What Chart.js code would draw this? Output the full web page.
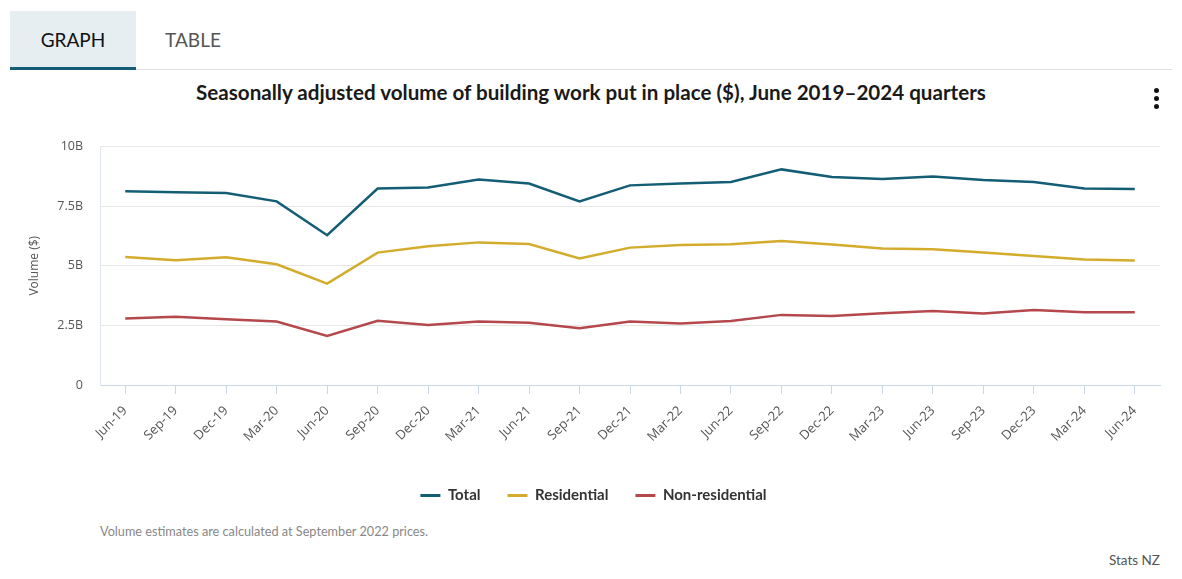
<!DOCTYPE html>
<html>
<head>
<meta charset="utf-8">
<script src="https://cdn.jsdelivr.net/npm/chart.js@4/dist/chart.umd.min.js"></script>
<style>
  html,body{margin:0;padding:0;background:#fff;width:1182px;height:579px;overflow:hidden;font-family:Lato, "Open Sans", sans-serif;}
  .tabbar{position:absolute;left:10px;top:11px;width:1162px;height:58px;border-bottom:1px solid #e0e0e0;}
  .tab{position:absolute;top:0;height:57px;line-height:58px;font-size:19px;text-align:center;color:#555;}
  .tab.active{left:0;width:126px;background:#e6eef1;color:#111;border-bottom:3px solid #135e75;height:56px;}
  .tab.other{left:126px;width:114px;}
  .title{position:absolute;left:0;width:1182px;top:80px;text-align:center;font-weight:bold;font-size:20.6px;color:#1a1a1a;}
  .menu{position:absolute;left:1154px;top:88px;}
  .menu span{display:block;width:5px;height:5px;border-radius:50%;background:#111;margin-bottom:3px;}
  .note{position:absolute;left:100px;top:523px;font-size:12.7px;color:#888;}
  .src{position:absolute;right:22px;top:552px;font-size:13.5px;color:#555;}
  #wrap{position:absolute;left:0;top:122px;width:1182px;height:391px;}
</style>
</head>
<body>
<div class="tabbar">
  <div class="tab active">GRAPH</div>
  <div class="tab other">TABLE</div>
</div>
<div class="title">Seasonally adjusted volume of building work put in place ($), June 2019–2024 quarters</div>
<div class="menu"><span></span><span></span><span></span></div>
<div id="wrap"><canvas id="c"></canvas></div>
<div class="note">Volume estimates are calculated at September 2022 prices.</div>
<div class="src">Stats NZ</div>
<script>
const categories = ["Jun-19","Sep-19","Dec-19","Mar-20","Jun-20","Sep-20","Dec-20","Mar-21","Jun-21","Sep-21","Dec-21","Mar-22","Jun-22","Sep-22","Dec-22","Mar-23","Jun-23","Sep-23","Dec-23","Mar-24","Jun-24"];
const total = [8.12,8.08,8.05,7.70,6.28,8.24,8.28,8.62,8.45,7.70,8.37,8.45,8.51,9.04,8.72,8.64,8.74,8.60,8.51,8.24,8.22];
const residential = [5.37,5.23,5.36,5.06,4.25,5.55,5.82,5.98,5.91,5.31,5.76,5.87,5.90,6.04,5.89,5.72,5.69,5.56,5.41,5.26,5.22];
const nonResidential = [2.79,2.86,2.76,2.66,2.06,2.69,2.52,2.66,2.61,2.38,2.66,2.58,2.68,2.94,2.89,3.01,3.10,3.00,3.14,3.05,3.05];
const yTicks = [0,2.5,5,7.5,10];
const yTickLabels = ["0","2.5B","5B","7.5B","10B"];

const FONT = 'Lato, "Open Sans", sans-serif';
const AXFONT = '"Open Sans", sans-serif';
function ds(label, data, color){
  return {label, data, borderColor:color, backgroundColor:color, borderWidth:2.5, pointRadius:0, pointHoverRadius:0, tension:0};
}
new Chart(document.getElementById('c'), {
  type:'line',
  data:{labels:categories, datasets:[ds('Total',total,'#135e75'), ds('Residential',residential,'#d4ac2c'), ds('Non-residential',nonResidential,'#b5484d')]},
  options:{
    responsive:true, maintainAspectRatio:false, animation:false,
    layout:{padding:{top:0,right:22,left:27,bottom:0}},
    plugins:{
      tooltip:{enabled:false},
      legend:{position:'bottom', labels:{boxWidth:20, boxHeight:3, padding:27, color:'#333', font:{family:FONT,size:15,weight:'bold'},
        generateLabels(chart){
          return Chart.defaults.plugins.legend.labels.generateLabels(chart).map(l=>Object.assign(l,{lineWidth:0, strokeStyle:'rgba(0,0,0,0)'}));
        }}}
    },
    scales:{
      x:{
        offset:true,
        grid:{offset:false, drawOnChartArea:false, drawTicks:true, tickLength:9, color:'#ccd6eb'},
        border:{color:'#ccd6eb'},
        ticks:{maxRotation:45, minRotation:45, autoSkip:false, color:'#555', font:{family:AXFONT,size:13}, padding:9},
        afterFit(s){ s.height = 76; }
      },
      y:{
        min:0, max:10,
        afterBuildTicks(s){ s.ticks = yTicks.map(v=>({value:v})); },
        ticks:{callback:(v)=>yTickLabels[yTicks.indexOf(v)], color:'#555', font:{family:AXFONT,size:12.5}, padding:17},
        grid:{color:'#e6e6e6', drawTicks:false},
        border:{color:'#e0e6f0', display:true},
        title:{display:true, text:'Volume ($)', color:'#555', font:{family:AXFONT,size:12}, padding:{top:0,bottom:0}},
        afterFit(s){ s.width = 73; }
      }
    }
  }
});
</script>
</body>
</html>
